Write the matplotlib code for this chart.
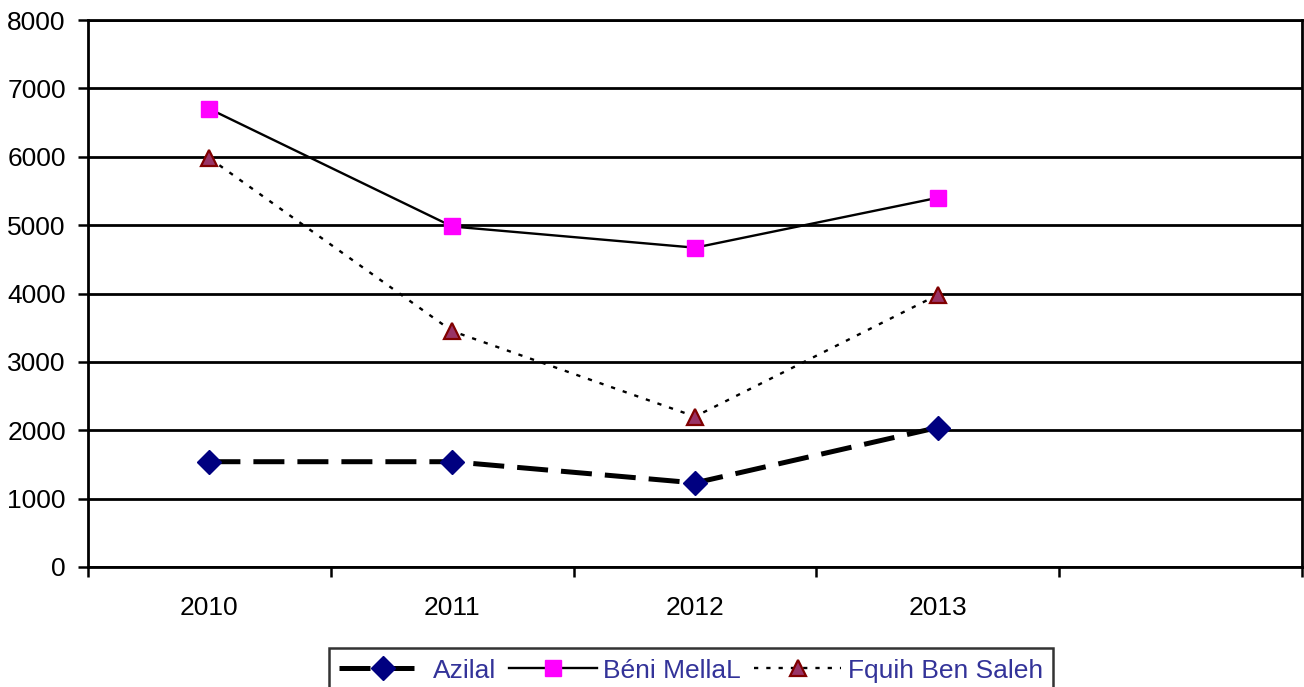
import numpy as np
import matplotlib.pyplot as plt

years = ["2010", "2011", "2012", "2013"]
azilal = [1540, 1540, 1230, 2040]
beni_mellal = [6700, 4980, 4670, 5400]
fquih = [5980, 3450, 2200, 3980]

plt.rcParams['font.family'] = ['Liberation Sans', 'DejaVu Sans']

fig = plt.figure(figsize=(13.04, 6.87), dpi=100)
ax = fig.add_axes([88 / 1304, 1 - 567 / 687, (1302 - 88) / 1304, (567 - 20) / 687])

x = np.arange(len(years))
ax.plot(x, azilal, color='black', lw=3.6, dashes=(6.2, 2.6),
        marker='D', ms=12.5, mfc='#000080', mec='#000080', label='Azilal', zorder=3)
ax.plot(x, beni_mellal, color='black', lw=1.7,
        marker='s', ms=11, mfc='#FF00FF', mec='#FF00FF', label='Béni MellaL', zorder=3)
ax.plot(x, fquih, color='black', lw=1.7, dashes=(1.8, 3.4),
        marker='^', ms=11, mfc='#993366', mec='#800000', mew=1.6,
        label='Fquih Ben Saleh', zorder=3)

ax.set_xlim(-0.5, 4.5)
ax.set_ylim(0, 8000)
ax.set_yticks(np.arange(0, 8001, 1000))
ax.set_xticks(x)
ax.set_xticklabels(years)
ax.set_xticks(np.arange(-0.5, 4.6, 1), minor=True)
ax.tick_params(axis='x', which='major', length=0, pad=21, labelsize=19)
ax.tick_params(axis='x', which='minor', length=7, width=1.8, direction='out')
ax.tick_params(axis='y', length=7, width=1.8, labelsize=19, pad=9)
ax.yaxis.grid(True, color='black', lw=2)
ax.set_axisbelow(True)
for s in ax.spines.values():
    s.set_linewidth(2)

leg = fig.legend(loc='upper center', bbox_to_anchor=(0.53, 1 - 648 / 687), ncol=3,
                 fontsize=19, frameon=True, fancybox=False, edgecolor='black',
                 handlelength=3.3, handletextpad=0.25, columnspacing=0.5,
                 borderpad=0.4, borderaxespad=0)
leg.get_frame().set_linewidth(1.8)
for t in leg.get_texts():
    t.set_color('#333399')

fig.savefig('out.png', dpi=100)
